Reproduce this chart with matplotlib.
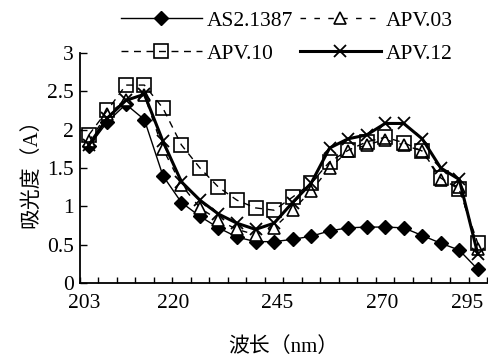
import matplotlib.pyplot as plt
import numpy as np

# wavelength labels shown on the x axis (22 sampled points, category axis)
wave_labels = ["203", "220", "245", "270", "295"]
n_points = 22

# absorbance readings
as21387 = [1.78, 2.10, 2.33, 2.13, 1.40, 1.05, 0.87, 0.72, 0.60, 0.54, 0.54,
           0.57, 0.61, 0.68, 0.72, 0.73, 0.73, 0.72, 0.62, 0.52, 0.43, 0.18]
apv03 = [1.85, 2.20, 2.38, 2.45, 1.75, 1.28, 0.98, 0.82, 0.70, 0.63, 0.72,
         0.95, 1.20, 1.50, 1.72, 1.80, 1.87, 1.80, 1.72, 1.34, 1.25, 0.45]
apv10 = [1.93, 2.25, 2.58, 2.58, 2.28, 1.80, 1.50, 1.25, 1.08, 0.98, 0.95,
         1.12, 1.30, 1.58, 1.73, 1.84, 1.90, 1.83, 1.72, 1.37, 1.22, 0.52]
apv12 = [1.80, 2.15, 2.38, 2.46, 1.85, 1.32, 1.08, 0.90, 0.78, 0.70, 0.78,
         1.05, 1.30, 1.76, 1.88, 1.93, 2.08, 2.08, 1.88, 1.50, 1.35, 0.38]

plt.rcParams['font.family'] = ['Liberation Serif', 'Noto Sans CJK SC']

fig = plt.figure(figsize=(4.88, 3.57), dpi=100)
ax = fig.add_axes([0.163, 0.207, 0.835, 0.645])

x = np.arange(n_points)
l1, = ax.plot(x, as21387, color='black', lw=1.0, marker='D', ms=7.5,
              mfc='black', mec='black')
l2, = ax.plot(x, apv03, color='black', lw=1.0, ls=(0, (4, 6)), marker='^',
              ms=8, mfc='white', mec='black', mew=1.2)
l3, = ax.plot(x, apv10, color='black', lw=1.0, ls=(0, (5, 4)), marker='s',
              ms=10, mfc='none', mec='black', mew=1.2)
l4, = ax.plot(x, apv12, color='black', lw=2.2, marker='x', ms=8,
              mec='black', mew=1.3)

ax.set_xlim(-0.5, n_points - 0.5)
ax.set_ylim(0, 3)
ax.spines['top'].set_visible(False)
ax.spines['right'].set_visible(False)
ax.spines['left'].set_linewidth(1.3)
ax.spines['bottom'].set_linewidth(1.3)

# labels sit where the original figure put them; ticks mark category borders
ax.set_xticks([-0.27, 4.54, 10.19, 15.86, 20.45])
ax.set_xticklabels(wave_labels)
ax.set_xticks(np.arange(-0.5, n_points, 1.0), minor=True)
ax.tick_params(axis='x', which='major', length=0, pad=8, labelsize=15.5)
ax.tick_params(axis='x', which='minor', direction='in', length=4, width=1)
ax.set_yticks(np.arange(0, 3.01, 0.5))
ax.set_yticklabels(['0', '0.5', '1', '1.5', '2', '2.5', '3'])
ax.tick_params(axis='y', direction='in', length=5, width=1, pad=4, labelsize=15.5)

ax.set_xlabel('波长（nm）', fontsize=15, labelpad=17)
ax.set_ylabel('吸光度（A）', fontsize=15, labelpad=4)

fig.legend([l1, l3, l2, l4], ['AS2.1387', 'APV.10', 'APV.03', 'APV.12'],
           ncol=2, loc='upper left', bbox_to_anchor=(0.225, 1.0),
           frameon=False, fontsize=15.5, handlelength=3.8, handletextpad=0.2,
           columnspacing=0.3, labelspacing=0.6, borderaxespad=0.1)

fig.savefig('out.png', dpi=100)
